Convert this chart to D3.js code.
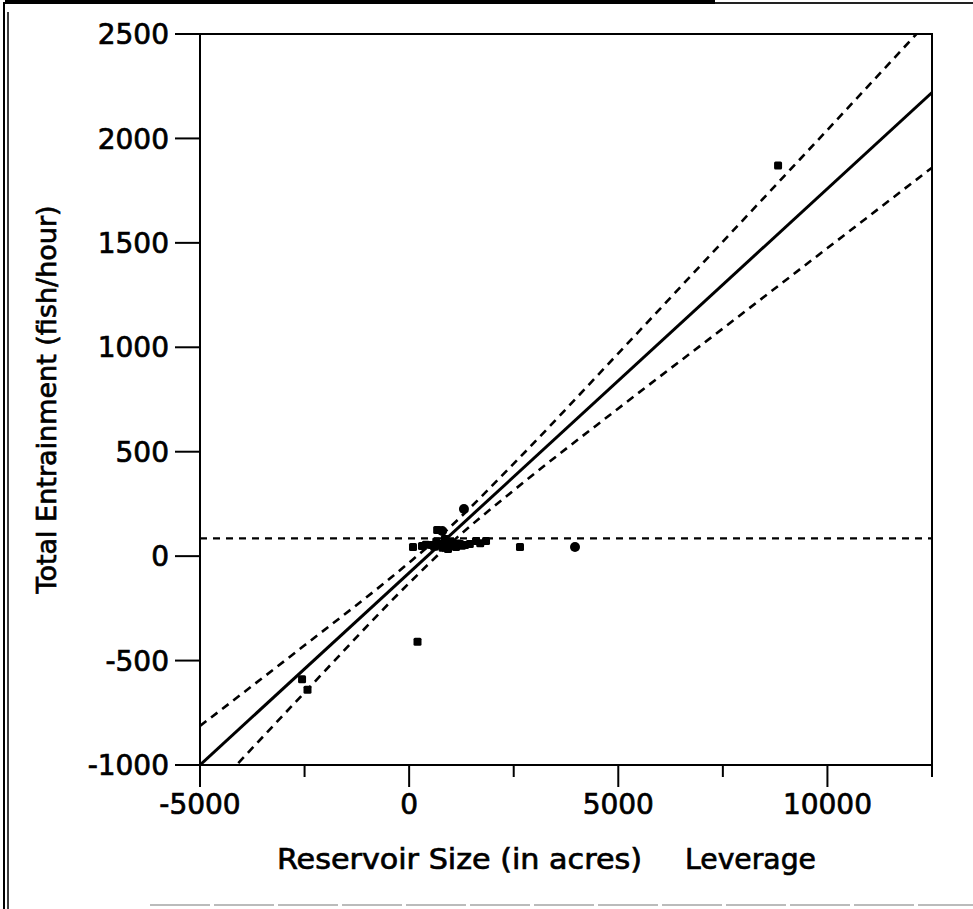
<!DOCTYPE html>
<html lang="en">

<head>
    <meta charset="UTF-8">
    <script src="https://cdnjs.cloudflare.com/ajax/libs/d3/7.8.5/d3.min.js"></script>
    <title>Reservoir Size Leverage</title>
    <style>
        body { margin: 0; background: #fff; }
        text { font-family: "DejaVu Sans", "Liberation Sans", Arial, sans-serif; fill: #000; stroke: #000; stroke-width: 0.7px; }
    </style>
</head>

<body>
    <script>
        // axis ticks
        var xTicks = [-5000, -2500, 0, 2500, 5000, 7500, 10000, 12500];
        var xLabels = [-5000, 0, 5000, 10000];
        var yTicks = [-1000, -500, 0, 500, 1000, 1500, 2000, 2500];

        // points (leverage x, total entrainment y)
        var pointX = [8820, 1310, 790, 3965, 670, 92, 307, 546, 738, 857, 929, 1025, 1120, 1216, 1335, 1598, 1838, 2650, 200, -2560, -2430,
            400, 600, 650, 700, 800, 880, 960, 1060, 1160, 1260, 1450, 1700];
        var pointY = [1870, 226, 120, 44, 125, 44, 49, 53, 58, 82, 34, 63, 44, 58, 53, 72, 72, 44, -410, -590, -640,
            55, 45, 70, 50, 40, 65, 55, 50, 60, 50, 58, 62];
        // the first few marks are drawn as round dots in the scan
        var roundCount = 4;

        // fitted line and confidence curves
        var fitX = [-5000, 12500];
        var fitY = [-1000, 2220];
        var bandX = [-5000, -2500, 0, 900, 2500, 5000, 7500, 10000, 12500];
        var upperY = [-813, -427, -31, 125, 443, 971, 1506, 2041, 2580];
        var lowerY = [-1187, -653, -129, 45, 315, 707, 1090, 1475, 1860];
        var meanY = 85;

        var width = 973, height = 909;
        var pLeft = 200, pRight = 932, pTop = 34, pBottom = 765;

        var svg = d3.select('body').append('svg')
            .attr('width', width)
            .attr('height', height);

        var x = d3.scaleLinear().domain([-5000, 12500]).range([pLeft, pRight]);
        var y = d3.scaleLinear().domain([-1000, 2500]).range([pBottom, pTop]);

        // scan border bits
        svg.append('line').attr('x1', 5).attr('x2', 715).attr('y1', 2).attr('y2', 2)
            .attr('stroke', '#000').attr('stroke-width', 4);
        svg.append('line').attr('x1', 715).attr('x2', 973).attr('y1', 3).attr('y2', 3)
            .attr('stroke', '#222').attr('stroke-width', 2);
        svg.append('line').attr('x1', 4).attr('x2', 4).attr('y1', 2).attr('y2', 909)
            .attr('stroke', '#000').attr('stroke-width', 2);
        svg.append('line').attr('x1', 8).attr('x2', 8).attr('y1', 12).attr('y2', 909)
            .attr('stroke', '#000').attr('stroke-width', 1.5);
        svg.append('line').attr('x1', 150).attr('x2', 973).attr('y1', 905).attr('y2', 905)
            .attr('stroke', '#bbb').attr('stroke-width', 2).attr('stroke-dasharray', '60,4');

        svg.append('defs').append('clipPath').attr('id', 'clip')
            .append('rect').attr('x', pLeft).attr('y', pTop)
            .attr('width', pRight - pLeft).attr('height', pBottom - pTop);

        var plot = svg.append('g').attr('clip-path', 'url(#clip)');

        // mean line
        plot.append('line')
            .attr('x1', pLeft).attr('x2', pRight)
            .attr('y1', y(meanY)).attr('y2', y(meanY))
            .attr('stroke', '#000').attr('stroke-width', 2.2)
            .attr('stroke-dasharray', '7,6');

        var line = d3.line()
            .x(function (d) { return x(d[0]); })
            .y(function (d) { return y(d[1]); })
            .curve(d3.curveMonotoneX);

        plot.append('path')
            .attr('d', line(bandX.map(function (v, i) { return [v, upperY[i]]; })))
            .attr('fill', 'none').attr('stroke', '#000').attr('stroke-width', 2.6)
            .attr('stroke-dasharray', '8,6');
        plot.append('path')
            .attr('d', line(bandX.map(function (v, i) { return [v, lowerY[i]]; })))
            .attr('fill', 'none').attr('stroke', '#000').attr('stroke-width', 2.6)
            .attr('stroke-dasharray', '8,6');
        plot.append('path')
            .attr('d', line(fitX.map(function (v, i) { return [v, fitY[i]]; })))
            .attr('fill', 'none').attr('stroke', '#000').attr('stroke-width', 3);

        // points
        plot.selectAll('.pt')
            .data(pointX.map(function (v, i) { return { x: v, y: pointY[i], big: i > 0 && i < roundCount }; }))
            .enter().append('rect')
            .attr('class', 'pt')
            .attr('x', function (d) { return x(d.x) - (d.big ? 5 : 4); })
            .attr('y', function (d) { return y(d.y) - (d.big ? 5 : 4); })
            .attr('width', function (d) { return d.big ? 10 : 8; })
            .attr('height', function (d) { return d.big ? 10 : 8; })
            .attr('rx', function (d) { return d.big ? 5 : 1.5; })
            .attr('fill', '#000');

        // frame
        svg.append('rect')
            .attr('x', pLeft).attr('y', pTop)
            .attr('width', pRight - pLeft).attr('height', pBottom - pTop)
            .attr('fill', 'none').attr('stroke', '#000').attr('stroke-width', 2);

        // y axis
        var yAxis = svg.append('g');
        yAxis.selectAll('line').data(yTicks).enter().append('line')
            .attr('x1', pLeft - 25).attr('x2', pLeft)
            .attr('y1', function (d) { return y(d); })
            .attr('y2', function (d) { return y(d); })
            .attr('stroke', '#000').attr('stroke-width', 2);
        yAxis.selectAll('text').data(yTicks).enter().append('text')
            .attr('x', pLeft - 31)
            .attr('y', function (d) { return y(d); })
            .attr('dy', '0.36em')
            .attr('text-anchor', 'end')
            .attr('font-size', 28)
            .text(function (d) { return d; });

        // x axis
        var xAxis = svg.append('g');
        xAxis.selectAll('line').data(xTicks).enter().append('line')
            .attr('x1', function (d) { return x(d); })
            .attr('x2', function (d) { return x(d); })
            .attr('y1', pBottom)
            .attr('y2', function (d) { return xLabels.indexOf(d) >= 0 ? pBottom + 22 : pBottom + 12; })
            .attr('stroke', '#000').attr('stroke-width', 2);
        xAxis.selectAll('text').data(xLabels).enter().append('text')
            .attr('x', function (d) { return x(d); })
            .attr('y', pBottom + 49)
            .attr('text-anchor', 'middle')
            .attr('font-size', 28)
            .text(function (d) { return d; });

        // axis titles
        svg.append('text')
            .attr('x', 277).attr('y', 869)
            .attr('font-size', 28)
            .attr('textLength', 365).attr('lengthAdjust', 'spacingAndGlyphs')
            .text('Reservoir Size (in acres)');
        svg.append('text')
            .attr('x', 685).attr('y', 869)
            .attr('font-size', 28)
            .attr('textLength', 131).attr('lengthAdjust', 'spacingAndGlyphs')
            .text('Leverage');
        svg.append('text')
            .attr('transform', 'translate(56,' + ((pTop + pBottom) / 2) + ') rotate(-90)')
            .attr('text-anchor', 'middle')
            .attr('font-size', 27)
            .text('Total Entrainment (fish/hour)');
    </script>
</body>

</html>
